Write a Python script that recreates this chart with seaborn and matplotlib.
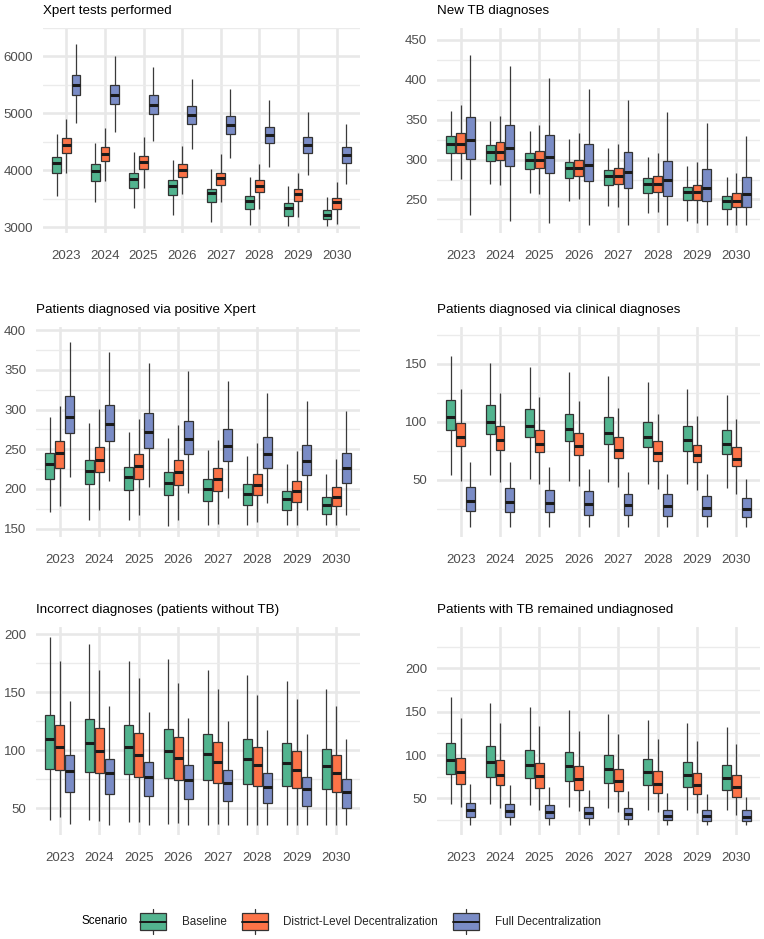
import numpy as np
import pandas as pd
import matplotlib
matplotlib.use("Agg")
import matplotlib.pyplot as plt
import seaborn as sns
from matplotlib.legend_handler import HandlerBase
from matplotlib.patches import Rectangle, Patch
from matplotlib.lines import Line2D

years = ["2023", "2024", "2025", "2026", "2027", "2028", "2029", "2030"]
scenarios = ["Baseline", "District-Level Decentralization", "Full Decentralization"]
colors = ["#52B48F", "#FC7347", "#7A8CC6"]

# each box: (whisker low, q1, median, q3, whisker high), one per year
xpert_base = [(3557, 3950, 4125, 4243, 4635), (3452, 3821, 3991, 4108, 4477), (3334, 3698, 3850, 3961, 4319),
              (3217, 3569, 3733, 3827, 4178), (3089, 3440, 3598, 3680, 4026), (3042, 3323, 3463, 3551, 3879),
              (3024, 3200, 3334, 3422, 3733), (3024, 3141, 3217, 3305, 3539)]
xpert_district = [(3961, 4301, 4448, 4565, 4905), (3821, 4172, 4289, 4418, 4752), (3698, 4026, 4155, 4260, 4588),
                  (3581, 3891, 4008, 4114, 4436), (3446, 3745, 3862, 3961, 4289), (3323, 3616, 3733, 3827, 4114),
                  (3176, 3469, 3586, 3668, 3955), (3053, 3323, 3440, 3522, 3798)]
xpert_full = [(4840, 5326, 5502, 5678, 6217), (4682, 5162, 5326, 5502, 6012), (4524, 4987, 5150, 5326, 5813),
              (4371, 4817, 4975, 5133, 5613), (4219, 4647, 4793, 4951, 5426), (4067, 4477, 4623, 4770, 5227),
              (3914, 4301, 4448, 4594, 5022), (3756, 4125, 4272, 4418, 4817)]

newtb_base = [(275, 308, 319, 329, 361), (269, 298, 310, 318, 348), (258, 288, 300, 308, 336),
              (248, 277, 289, 297, 326), (242, 268, 279, 287, 314), (233, 258, 269, 277, 303),
              (223, 249, 259, 266, 292), (218, 238, 248, 255, 278)]
newtb_district = [(276, 308, 320, 333, 368), (268, 299, 310, 322, 355), (257, 289, 300, 311, 344),
                  (250, 279, 289, 300, 333), (241, 269, 280, 290, 320), (234, 259, 270, 279, 308),
                  (220, 249, 260, 268, 297), (218, 240, 248, 258, 283)]
newtb_full = [(230, 301, 325, 354, 431), (223, 292, 315, 343, 417), (221, 283, 303, 331, 402),
              (218, 273, 293, 320, 388), (218, 264, 284, 309, 375), (218, 255, 274, 298, 360),
              (218, 248, 265, 288, 346), (218, 240, 257, 278, 330)]

pos_base = [(171, 212, 231, 245, 291), (161, 206, 223, 237, 283), (161, 199, 215, 228, 272),
            (153, 192, 208, 221, 264), (154, 185, 200, 213, 249), (154, 180, 194, 206, 242),
            (154, 174, 187, 198, 232), (154, 169, 180, 190, 219)]
pos_district = [(179, 227, 245, 261, 304), (173, 221, 236, 253, 301), (167, 213, 229, 244, 288),
                (161, 205, 221, 236, 281), (156, 198, 212, 227, 262), (158, 192, 205, 219, 258),
                (154, 184, 197, 210, 248), (154, 179, 190, 202, 238)]
pos_full = [(215, 270, 291, 317, 385), (210, 261, 282, 306, 372), (203, 252, 272, 296, 359),
            (195, 244, 263, 286, 349), (189, 235, 254, 276, 336), (182, 226, 244, 265, 321),
            (174, 218, 235, 255, 311), (167, 208, 226, 245, 298)]

clin_base = [(54, 93, 104, 119, 157), (54, 89, 100, 114, 151), (51, 87, 96, 111, 147),
             (49, 83, 94, 107, 143), (48, 81, 90, 104, 139), (46, 78, 87, 100, 134),
             (46, 75, 84, 96, 128), (43, 72, 81, 93, 123)]
clin_district = [(49, 79, 87, 99, 128), (48, 76, 84, 96, 125), (46, 74, 81, 93, 121),
                 (45, 71, 79, 90, 118), (44, 69, 76, 87, 112), (42, 66, 73, 83, 107),
                 (41, 65, 71, 80, 105), (38, 62, 68, 78, 102)]
clin_full = [(9, 23, 32, 44, 65), (9, 22, 31, 43, 65), (9, 22, 30, 41, 61), (9, 20, 29, 40, 59),
             (9, 20, 28, 38, 57), (9, 19, 27, 38, 55), (9, 19, 26, 36, 55), (9, 18, 25, 34, 51)]

incorrect_base = [(40, 84, 110, 130, 198), (40, 81, 106, 127, 192), (38, 79, 103, 122, 177),
                  (36, 76, 99, 118, 179), (35, 74, 97, 114, 169), (35, 71, 92, 110, 165),
                  (35, 69, 89, 106, 160), (35, 66, 86, 101, 153)]
incorrect_district = [(42, 83, 103, 122, 177), (39, 80, 99, 119, 169), (38, 77, 96, 115, 162),
                      (37, 74, 93, 111, 158), (36, 72, 90, 107, 153), (35, 69, 87, 103, 148),
                      (35, 67, 83, 99, 144), (35, 64, 80, 96, 138)]
incorrect_full = [(36, 64, 82, 96, 142), (35, 62, 80, 92, 138), (35, 60, 77, 90, 133),
                  (35, 58, 74, 87, 128), (35, 56, 72, 83, 125), (35, 54, 68, 80, 117),
                  (35, 52, 66, 77, 114), (35, 50, 64, 75, 110)]

undiag_base = [(44, 78, 94, 114, 167), (44, 75, 92, 110, 160), (42, 73, 89, 106, 155),
               (40, 70, 87, 103, 152), (39, 68, 84, 100, 147), (37, 65, 80, 95, 140),
               (37, 63, 77, 92, 137), (36, 60, 74, 89, 132)]
undiag_district = [(40, 67, 80, 97, 143), (39, 65, 77, 94, 137), (37, 62, 76, 91, 134),
                   (35, 60, 72, 87, 128), (34, 59, 70, 84, 124), (34, 56, 67, 82, 119),
                   (33, 55, 65, 79, 116), (31, 52, 63, 77, 113)]
undiag_full = [(19, 29, 37, 45, 67), (19, 28, 35, 43, 65), (19, 27, 34, 42, 63), (19, 27, 33, 40, 60),
               (19, 26, 32, 39, 58), (19, 25, 30, 37, 56), (19, 24, 30, 37, 55), (19, 24, 29, 36, 52)]

titles = ["Xpert tests performed", "New TB diagnoses", "Patients diagnosed via positive Xpert",
          "Patients diagnosed via clinical diagnoses", "Incorrect diagnoses (patients without TB)",
          "Patients with TB remained undiagnosed"]
panel_data = [
    (xpert_base, xpert_district, xpert_full),
    (newtb_base, newtb_district, newtb_full),
    (pos_base, pos_district, pos_full),
    (clin_base, clin_district, clin_full),
    (incorrect_base, incorrect_district, incorrect_full),
    (undiag_base, undiag_district, undiag_full),
]
y_limits = [(2900, 6500), (208, 465), (139.5, 404), (0.7, 181.6), (26.7, 206.3), (7.7, 247.7)]
y_major = [1000, 50, 50, 50, 50, 50]


def to_frame(series):
    # five summary numbers per box -> linear percentiles reproduce them exactly
    rows = []
    for scen, boxes in zip(scenarios, series):
        for yr, stats in zip(years, boxes):
            for v in stats:
                rows.append({"year": yr, "scenario": scen, "value": v})
    return pd.DataFrame(rows)


class BoxKey(HandlerBase):
    def create_artists(self, legend, orig_handle, xdescent, ydescent, width, height, fontsize, trans):
        x0, y0 = -xdescent, -ydescent
        cx = x0 + width / 2
        whisk = Line2D([cx, cx], [y0 - 0.25 * height, y0 + 1.25 * height], color="#333333", lw=0.9, transform=trans)
        box = Rectangle((x0, y0), width, height, facecolor=orig_handle.get_facecolor(),
                        edgecolor="#333333", lw=0.9, transform=trans)
        med = Line2D([x0, x0 + width], [y0 + height / 2] * 2, color="#1a1a1a", lw=1.4, transform=trans)
        return [whisk, box, med]


sns.set_theme(style="white")
plt.rcParams["font.family"] = ["Liberation Sans", "DejaVu Sans"]

W, H = 764, 939
fig = plt.figure(figsize=(W / 100, H / 100), dpi=100)

rows_px = [(28, 233), (327, 537), (627, 835)]
left_px = [(43, 360), (36, 360), (36, 360)]
right_px = (437, 760)

for i, (title, series) in enumerate(zip(titles, panel_data)):
    r, c = divmod(i, 2)
    top, bot = rows_px[r]
    x0, x1 = left_px[r] if c == 0 else right_px
    ax = fig.add_axes([x0 / W, 1 - bot / H, (x1 - x0) / W, (bot - top) / H])
    df = to_frame(series)
    sns.boxplot(data=df, x="year", y="value", hue="scenario", order=years, hue_order=scenarios,
                palette=colors, saturation=1, width=0.75, gap=0.1, whis=(0, 100),
                linecolor="#333333", linewidth=0.9, showcaps=False, legend=False, ax=ax,
                medianprops={"linewidth": 2.2, "color": "#1a1a1a"},
                whiskerprops={"color": "#3a3a3a"})
    ax.set_xlim(-0.6, 7.6)
    ax.set_ylim(*y_limits[i])
    step = y_major[i]
    ax.yaxis.set_major_locator(matplotlib.ticker.MultipleLocator(step))
    ax.yaxis.set_minor_locator(matplotlib.ticker.MultipleLocator(step / 2))
    ax.grid(which="major", axis="both", color="#E8E8E8", lw=1.9, zorder=0)
    ax.grid(which="minor", axis="y", color="#EBEBEB", lw=1.0, zorder=0)
    ax.set_axisbelow(True)
    ax.tick_params(axis="both", which="both", length=0, labelsize=9.5, labelcolor="#4D4D4D")
    ax.tick_params(axis="y", pad=7)
    ax.tick_params(axis="x", pad=12)
    for s in ax.spines.values():
        s.set_visible(False)
    ax.set_xlabel("")
    ax.set_ylabel("")
    ax.set_title(title, loc="left", fontsize=9.6, color="black", pad=10)

handles = [Patch(facecolor=col, label=lab) for col, lab in zip(colors, scenarios)]
fig.text(82 / W, 1 - 921.5 / H, "Scenario", ha="left", va="center", fontsize=8.4, color="black")
fig.legend(handles=handles, labels=scenarios, handler_map={Patch: BoxKey()},
           loc="center left", bbox_to_anchor=(140 / W, 1 - 921.5 / H), ncol=3, frameon=False,
           fontsize=8.4, handlelength=2.26, handleheight=1.8, handletextpad=1.3, columnspacing=1.3,
           borderpad=0, borderaxespad=0)

fig.savefig("out.png", dpi=100, facecolor="white")
